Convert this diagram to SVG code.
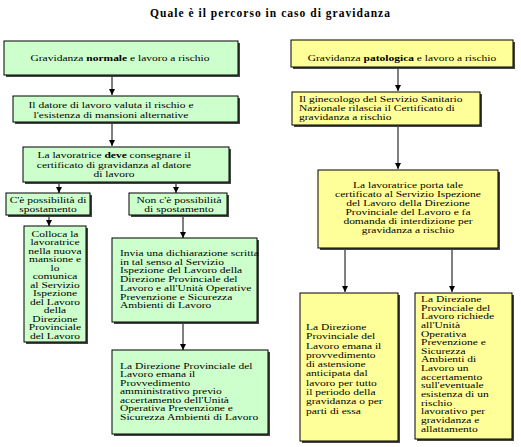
<svg xmlns="http://www.w3.org/2000/svg" width="521" height="447" viewBox="0 0 521 447">
<style>
.g{fill:#ccffcc;stroke:#000;stroke-width:1}
.y{fill:#ffff99;stroke:#000;stroke-width:1}
.sh{fill:#444}
.t{font-family:"Liberation Serif","Times New Roman",serif;font-size:11.5px;fill:#000}
.m{text-anchor:middle}
.b{font-weight:bold}
.c{stroke:#000;stroke-width:1;fill:none;marker-end:url(#ah)}
</style>
<defs>
<marker id="ah" markerUnits="userSpaceOnUse" markerWidth="7" markerHeight="7" refX="6" refY="3.5" orient="auto">
<path d="M0,0.5 L6,3.5 L0,6.5 z" fill="#000"/>
</marker>
</defs>
<rect width="521" height="447" fill="#fff"/>
<text class="t b" x="270" y="17" text-anchor="middle" font-size="12" textLength="240" lengthAdjust="spacing">Quale è il percorso in caso di gravidanza</text>

<g id="connectors">
<line class="c" x1="112" y1="75" x2="112" y2="95"/>
<line class="c" x1="112" y1="122" x2="112" y2="146"/>
<line class="c" x1="59" y1="183" x2="59" y2="193"/>
<line class="c" x1="176" y1="183" x2="176" y2="193"/>
<line class="c" x1="49" y1="217" x2="49" y2="226"/>
<line class="c" x1="183" y1="217" x2="183" y2="238"/>
<line class="c" x1="183" y1="322" x2="183" y2="350"/>
<line class="c" x1="398" y1="67" x2="398" y2="91"/>
<line class="c" x1="398" y1="125" x2="398" y2="169"/>
<line class="c" x1="345" y1="248" x2="345" y2="292"/>
<line class="c" x1="452" y1="248" x2="452" y2="292"/>
</g>

<g id="n1">
<rect class="sh" x="6" y="43" width="234" height="34"/>
<rect class="g" x="4" y="41" width="234" height="34"/>
<text class="t m" transform="translate(120,61) scale(1,0.8)"><tspan x="0" y="0">Gravidanza <tspan class="b">normale</tspan> e lavoro a rischio</tspan></text>
</g>

<g id="n2">
<rect class="sh" x="15" y="98" width="225" height="26"/>
<rect class="g" x="13" y="96" width="225" height="26"/>
<text class="t m" transform="translate(111,108) scale(1,0.8)"><tspan x="0" y="0">Il datore di lavoro valuta il rischio e</tspan><tspan x="0" dy="12.5">l'esistenza di mansioni alternative</tspan></text>
</g>

<g id="n3">
<rect class="sh" x="25" y="149" width="206" height="35"/>
<rect class="g" x="23" y="147" width="206" height="35"/>
<text class="t m" transform="translate(114,158) scale(1,0.8)"><tspan x="0" y="0">La lavoratrice <tspan class="b">deve</tspan> consegnare il</tspan><tspan x="0" dy="12">certificato di gravidanza al datore</tspan><tspan x="0" dy="12">di lavoro</tspan></text>
</g>

<g id="n4">
<rect class="sh" x="8" y="195" width="84" height="22"/>
<rect class="g" x="6" y="193" width="84" height="22"/>
<text class="t m" transform="translate(48,203) scale(1,0.8)"><tspan x="0" y="0">C'è possibilità di</tspan><tspan x="0" dy="11.5">spostamento</tspan></text>
</g>

<g id="n5">
<rect class="sh" x="131" y="195" width="98" height="22"/>
<rect class="g" x="129" y="193" width="98" height="22"/>
<text class="t m" transform="translate(179,203) scale(1,0.8)"><tspan x="0" y="0">Non c'è possibilità</tspan><tspan x="0" dy="11.5">di spostamento</tspan></text>
</g>

<g id="n6">
<rect class="sh" x="26" y="228" width="62" height="116"/>
<rect class="g" x="24" y="226" width="62" height="116"/>
<text class="t m" transform="translate(55,237) scale(1,0.8)"><tspan x="0" y="0">Colloca la</tspan><tspan x="0" dy="10.6">lavoratrice</tspan><tspan x="0" dy="10.6">nella nuova</tspan><tspan x="0" dy="10.6">mansione e</tspan><tspan x="0" dy="10.6">lo</tspan><tspan x="0" dy="10.6">comunica</tspan><tspan x="0" dy="10.6">al Servizio</tspan><tspan x="0" dy="10.6">Ispezione</tspan><tspan x="0" dy="10.6">del Lavoro</tspan><tspan x="0" dy="10.6">della</tspan><tspan x="0" dy="10.6">Direzione</tspan><tspan x="0" dy="10.6">Provinciale</tspan><tspan x="0" dy="10.6">del Lavoro</tspan></text>
</g>

<g id="n7">
<rect class="sh" x="114" y="240" width="145" height="84"/>
<rect class="g" x="112" y="238" width="145" height="84"/>
<text class="t" transform="translate(120,256) scale(1,0.8)"><tspan x="0" y="0">Invia una dichiarazione scritta</tspan><tspan x="0" dy="10.9">in tal senso al Servizio</tspan><tspan x="0" dy="10.9">Ispezione del Lavoro della</tspan><tspan x="0" dy="10.9">Direzione Provinciale del</tspan><tspan x="0" dy="10.9">Lavoro e all'Unità Operative</tspan><tspan x="0" dy="10.9">Prevenzione e Sicurezza</tspan><tspan x="0" dy="10.9">Ambienti di Lavoro</tspan></text>
</g>

<g id="n8">
<rect class="sh" x="114" y="352" width="156" height="84"/>
<rect class="g" x="112" y="350" width="156" height="84"/>
<text class="t" transform="translate(120,369) scale(1,0.8)"><tspan x="0" y="0">La Direzione Provinciale del</tspan><tspan x="0" dy="10.6">Lavoro emana il</tspan><tspan x="0" dy="10.6">Provvedimento</tspan><tspan x="0" dy="10.6">amministrativo previo</tspan><tspan x="0" dy="10.6">accertamento dell'Unità</tspan><tspan x="0" dy="10.6">Operativa Prevenzione e</tspan><tspan x="0" dy="10.6">Sicurezza Ambienti di Lavoro</tspan></text>
</g>

<g id="n9">
<rect class="sh" x="293" y="42" width="222" height="27"/>
<rect class="y" x="291" y="40" width="222" height="27"/>
<text class="t m" transform="translate(402,61) scale(1,0.8)"><tspan x="0" y="0">Gravidanza <tspan class="b">patologica</tspan> e lavoro a rischio</tspan></text>
</g>

<g id="n10">
<rect class="sh" x="294" y="94" width="188" height="33"/>
<rect class="y" x="292" y="92" width="188" height="33"/>
<text class="t" transform="translate(299,102) scale(1,0.8)"><tspan x="0" y="0">Il ginecologo del Servizio Sanitario</tspan><tspan x="0" dy="11.2">Nazionale rilascia il Certificato di</tspan><tspan x="0" dy="11.2">gravidanza a rischio</tspan></text>
</g>

<g id="n11">
<rect class="sh" x="320" y="172" width="180" height="78"/>
<rect class="y" x="318" y="170" width="180" height="78"/>
<text class="t m" transform="translate(408,188) scale(1,0.8)"><tspan x="0" y="0">La lavoratrice porta tale</tspan><tspan x="0" dy="11.3">certificato al Servizio Ispezione</tspan><tspan x="0" dy="11.3">del Lavoro della Direzione</tspan><tspan x="0" dy="11.3">Provinciale del Lavoro e fa</tspan><tspan x="0" dy="11.3">domanda di interdizione per</tspan><tspan x="0" dy="11.3">gravidanza a rischio</tspan></text>
</g>

<g id="n12">
<rect class="sh" x="302" y="295" width="98" height="148"/>
<rect class="y" x="300" y="293" width="98" height="148"/>
<text class="t" transform="translate(306,330) scale(1,0.8)"><tspan x="0" y="0">La Direzione</tspan><tspan x="0" dy="11.6">Provinciale del</tspan><tspan x="0" dy="11.6">Lavoro emana il</tspan><tspan x="0" dy="11.6">provvedimento</tspan><tspan x="0" dy="11.6">di astensione</tspan><tspan x="0" dy="11.6">anticipata dal</tspan><tspan x="0" dy="11.6">lavoro per tutto</tspan><tspan x="0" dy="11.6">il periodo della</tspan><tspan x="0" dy="11.6">gravidanza o per</tspan><tspan x="0" dy="11.6">parti di essa</tspan></text>
</g>

<g id="n13">
<rect class="sh" x="417" y="295" width="97" height="146"/>
<rect class="y" x="415" y="293" width="97" height="146"/>
<text class="t" transform="translate(421,302) scale(1,0.8)"><tspan x="0" y="0">La Direzione</tspan><tspan x="0" dy="10.8">Provinciale del</tspan><tspan x="0" dy="10.8">Lavoro richiede</tspan><tspan x="0" dy="10.8">all'Unità</tspan><tspan x="0" dy="10.8">Operativa</tspan><tspan x="0" dy="10.8">Prevenzione e</tspan><tspan x="0" dy="10.8">Sicurezza</tspan><tspan x="0" dy="10.8">Ambienti di</tspan><tspan x="0" dy="10.8">Lavoro un</tspan><tspan x="0" dy="10.8">accertamento</tspan><tspan x="0" dy="10.8">sull'eventuale</tspan><tspan x="0" dy="10.8">esistenza di un</tspan><tspan x="0" dy="10.8">rischio</tspan><tspan x="0" dy="10.8">lavorativo per</tspan><tspan x="0" dy="10.8">gravidanza e</tspan><tspan x="0" dy="10.8">allattamento</tspan></text>
</g>
</svg>
